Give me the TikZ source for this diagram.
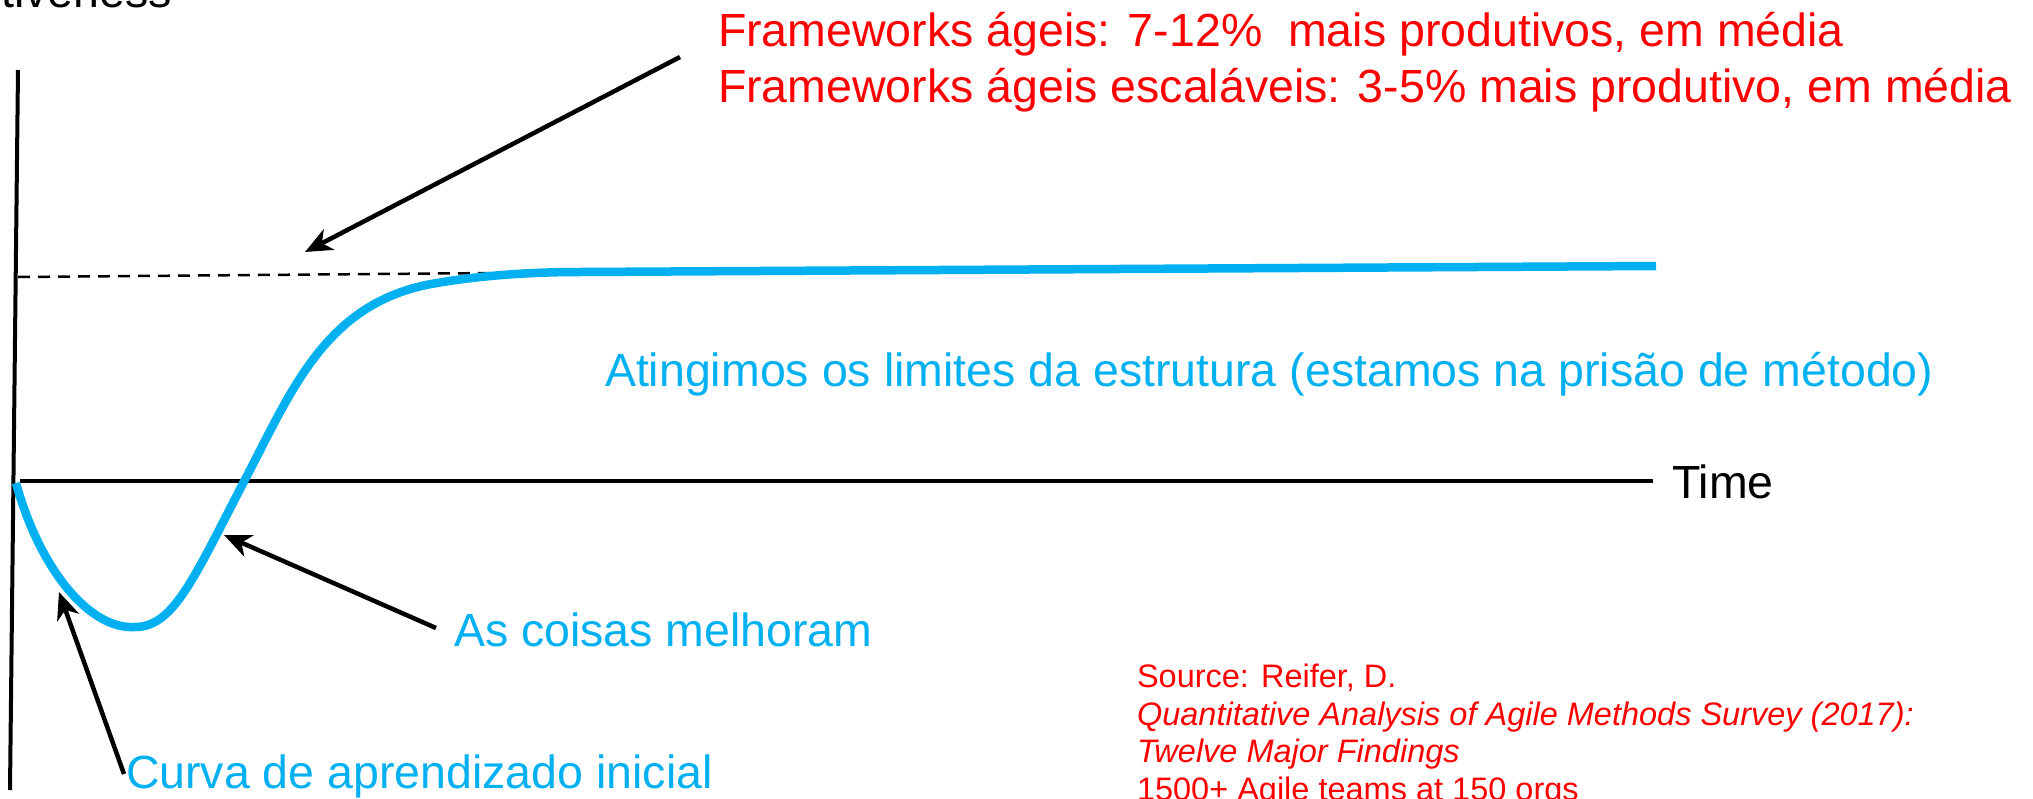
\documentclass[tikz,border=0pt]{standalone}
\usepackage{fontspec}
\setmainfont{Liberation Sans}
\usetikzlibrary{arrows.meta}
\definecolor{skyb}{HTML}{00B0F0}
\definecolor{redt}{HTML}{FF0000}
\begin{document}
\begin{tikzpicture}[x=1pt,y=-1pt,
  lbl/.style={inner sep=0pt, outer sep=0pt, anchor=base west, font=\fontsize{46.5}{56}\selectfont},
  srcl/.style={inner sep=0pt, outer sep=0pt, anchor=base west, text=redt, font=\fontsize{32.5}{38}\selectfont},
  axisline/.style={line width=4pt, black},
  ptr/.style={line width=4.5pt, black, -{Stealth[length=27pt,width=23pt,inset=8pt]}},
  curveline/.style={line width=8.5pt, skyb, line join=round},
  guide/.style={line width=2.5pt, black, dash pattern=on 12pt off 8pt}]
\useasboundingbox (0,0) rectangle (2033,798);

% axes
\coordinate (vtop) at (18,70);
\coordinate (vbot) at (10,790);
\draw[axisline] (vtop) -- (vbot);
\coordinate (hleft) at (20,481);
\coordinate (hright) at (1653,481);
\draw[axisline] (hleft) -- (hright);

% axis labels
\node[lbl, anchor=base east] (ylab) at (172,7) {Effectiveness};
\node[lbl] (tlab) at (1672,498) {Time};

% dashed guide
\coordinate (gl) at (18,277);
\coordinate (gr) at (497,273);
\draw[guide] (gl) -- (gr);

% blue curve
\coordinate (c0) at (16,483);
\coordinate (cmin) at (135,627);
\coordinate (c2) at (250,470);
\coordinate (c3) at (437,283);
\coordinate (c4) at (580,272);
\coordinate (cend) at (1656,266);
\draw[curveline] (c0) .. controls (40,570) and (90,630) .. (cmin)
  .. controls (175,627) and (195,575) .. (c2)
  .. controls (295,383) and (330,300) .. (c3)
  .. controls (472,277) and (520,272) .. (c4) -- (cend);

% texts
\node[lbl, text=redt] (r1) at (718,46) {Frameworks ágeis: 7-12\%\ \ mais produtivos, em média};
\node[lbl, text=redt] (r2) at (718,102) {Frameworks ágeis escaláveis: 3-5\% mais produtivo, em média};
\node[lbl, text=skyb] (lim) at (605,386) {Atingimos os limites da estrutura (estamos na prisão de método)};
\node[lbl, text=skyb] (mel) at (454,646) {As coisas melhoram};
\node[lbl, text=skyb] (cur) at (126,788) {Curva de aprendizado inicial};

\node[srcl] (s1) at (1137,687) {Source: Reifer, D.};
\node[srcl, font=\fontsize{32.5}{38}\selectfont\itshape] (s2) at (1137,725) {Quantitative Analysis of Agile Methods Survey (2017):};
\node[srcl, font=\fontsize{32.5}{38}\selectfont\itshape] (s3) at (1137,762) {Twelve Major Findings};
\node[srcl] (s4) at (1137,800) {1500+ Agile teams at 150 orgs};

% pointer arrows
\coordinate (a1s) at (680,57);
\coordinate (a1e) at (305,252);
\draw[ptr] (a1s) -- (a1e);
\coordinate (a2s) at (436,628);
\coordinate (a2e) at (224,535);
\draw[ptr] (a2s) -- (a2e);
\coordinate (a3s) at (124,774);
\coordinate (a3e) at (59,592);
\draw[ptr] (a3s) -- (a3e);
\end{tikzpicture}
\end{document}
